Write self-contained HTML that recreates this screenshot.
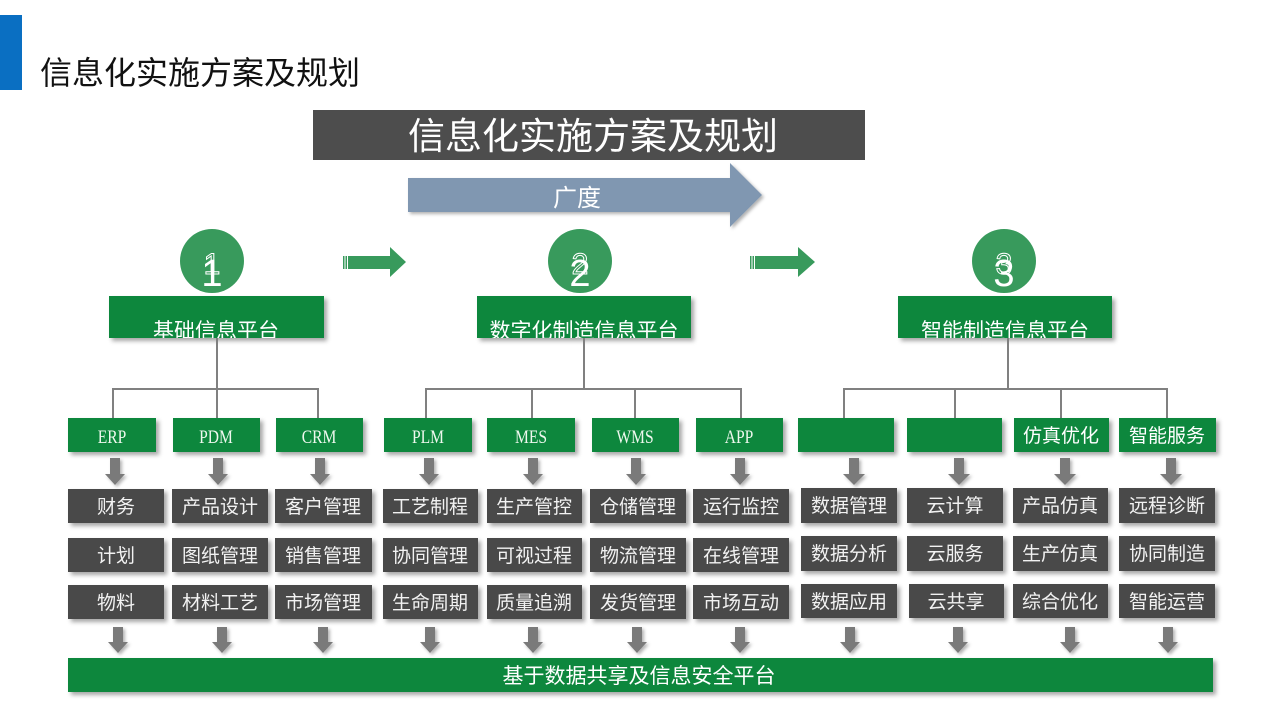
<!DOCTYPE html>
<html>
<head>
<meta charset="utf-8">
<style>
html,body{margin:0;padding:0;background:#fff;}
svg{display:block;}
text{font-family:"Liberation Sans","Noto Sans CJK SC",sans-serif;}
.serif{font-family:"Liberation Serif","Noto Serif CJK SC",serif;}
</style>
</head>
<body>
<svg width="1280" height="720" viewBox="0 0 1280 720" xmlns="http://www.w3.org/2000/svg">
<defs>
<filter id="sh" x="-10%" y="-20%" width="125%" height="160%">
<feDropShadow dx="3" dy="3" stdDeviation="2" flood-color="#000" flood-opacity="0.35"/>
</filter>
<filter id="sh2" x="-40%" y="-20%" width="180%" height="160%">
<feDropShadow dx="2" dy="2" stdDeviation="1.5" flood-color="#000" flood-opacity="0.3"/>
</filter>
<clipPath id="c1"><rect x="109" y="296" width="215" height="42"/></clipPath>
<clipPath id="c2"><rect x="477" y="296" width="214" height="42"/></clipPath>
<clipPath id="c3"><rect x="898" y="296" width="214" height="42"/></clipPath>
</defs>

<!-- header -->
<rect x="0" y="15" width="22" height="75" fill="#0a6fc2"/>
<text x="40" y="84" font-size="32" fill="#111">信息化实施方案及规划</text>

<!-- banner -->
<rect x="313" y="110" width="552" height="50" fill="#4d4d4d"/>
<text x="593" y="149" font-size="37" fill="#fff" text-anchor="middle">信息化实施方案及规划</text>

<!-- 广度 arrow -->
<polygon points="408,178 730,178 730,163 762,195 730,227 730,212 408,212" fill="#8097b1" filter="url(#sh2)"/>
<text x="577" y="206" font-size="24" fill="#fff" text-anchor="middle">广度</text>

<!-- circles -->
<g>
<circle cx="212" cy="261" r="32" fill="#389a5c"/>
<text x="212" y="274" font-size="30" fill="none" stroke="#fff" stroke-width="1" text-anchor="middle">1</text>
<text x="212" y="286" font-size="38" fill="#fff" text-anchor="middle">1</text>
<circle cx="580" cy="261" r="32" fill="#389a5c"/>
<text x="580" y="274" font-size="30" fill="none" stroke="#fff" stroke-width="1" text-anchor="middle">2</text>
<text x="580" y="286" font-size="38" fill="#fff" text-anchor="middle">2</text>
<circle cx="1004" cy="261" r="32" fill="#389a5c"/>
<text x="1004" y="274" font-size="30" fill="none" stroke="#fff" stroke-width="1" text-anchor="middle">3</text>
<text x="1004" y="286" font-size="38" fill="#fff" text-anchor="middle">3</text>
</g>

<!-- green small arrows -->
<g fill="#389a5c">
<rect x="343" y="256" width="1.5" height="13"/>
<rect x="345.5" y="256" width="1.5" height="13"/>
<polygon points="348,256 390,256 390,247 406,262 390,277 390,269 348,269"/>
<rect x="750" y="256" width="1.5" height="13"/>
<rect x="752.5" y="256" width="1.5" height="13"/>
<polygon points="755,256 798,256 798,247 815,262 798,277 798,269 755,269"/>
</g>

<!-- platform boxes -->
<rect x="109" y="296" width="215" height="42" fill="#08873d" filter="url(#sh)"/>
<text x="216" y="338" font-size="21" fill="#fff" text-anchor="middle" clip-path="url(#c1)">基础信息平台</text>
<rect x="477" y="296" width="214" height="42" fill="#08873d" filter="url(#sh)"/>
<text x="584" y="338" font-size="21" fill="#fff" text-anchor="middle" clip-path="url(#c2)">数字化制造信息平台</text>
<rect x="898" y="296" width="214" height="42" fill="#08873d" filter="url(#sh)"/>
<text x="1005" y="338" font-size="21" fill="#fff" text-anchor="middle" clip-path="url(#c3)">智能制造信息平台</text>

<!-- connectors -->
<g stroke="#808080" stroke-width="2" fill="none">
<line x1="217" y1="338" x2="217" y2="418"/>
<polyline points="113,418 113,389 318,389 318,418"/>
<line x1="584" y1="338" x2="584" y2="389"/>
<polyline points="426,418 426,389 741,389 741,418"/>
<line x1="532" y1="389" x2="532" y2="418"/>
<line x1="635" y1="389" x2="635" y2="418"/>
<line x1="1008" y1="338" x2="1008" y2="389"/>
<polyline points="844,418 844,389 1167,389 1167,418"/>
<line x1="955" y1="389" x2="955" y2="418"/>
<line x1="1061" y1="389" x2="1061" y2="418"/>
</g>

<!-- green category boxes -->
<g fill="#08873d" filter="url(#sh)">
<rect x="68" y="418" width="88" height="34"/>
<rect x="173" y="418" width="87" height="34"/>
<rect x="276" y="418" width="87" height="34"/>
<rect x="384" y="418" width="88" height="34"/>
<rect x="487" y="418" width="88" height="34"/>
<rect x="592" y="418" width="87" height="34"/>
<rect x="696" y="418" width="87" height="34"/>
<rect x="798" y="418" width="96" height="34"/>
<rect x="907" y="418" width="95" height="34"/>
<rect x="1014" y="418" width="95" height="34"/>
<rect x="1119" y="418" width="97" height="34"/>
</g>
<g fill="#eef8ee" font-size="19" text-anchor="middle">
<text class="serif" transform="translate(112,443) scale(0.82,1)">ERP</text>
<text class="serif" transform="translate(216,443) scale(0.82,1)">PDM</text>
<text class="serif" transform="translate(319,443) scale(0.82,1)">CRM</text>
<text class="serif" transform="translate(428,443) scale(0.82,1)">PLM</text>
<text class="serif" transform="translate(531,443) scale(0.82,1)">MES</text>
<text class="serif" transform="translate(635,443) scale(0.82,1)">WMS</text>
<text class="serif" transform="translate(739,443) scale(0.82,1)">APP</text>
</g>
<g fill="#fff" font-size="19" text-anchor="middle">
<text x="1061" y="442">仿真优化</text>
<text x="1167" y="442">智能服务</text>
</g>

<!-- down arrows row 1 -->
<g fill="#7a7a7a" filter="url(#sh2)">
<polygon points="110,458 120,458 120,474 125,474 115,485 105,474 110,474"/>
<polygon points="213,458 223,458 223,474 228,474 218,485 208,474 213,474"/>
<polygon points="315,458 325,458 325,474 330,474 320,485 310,474 315,474"/>
<polygon points="424,458 434,458 434,474 439,474 429,485 419,474 424,474"/>
<polygon points="528,458 538,458 538,474 543,474 533,485 523,474 528,474"/>
<polygon points="631,458 641,458 641,474 646,474 636,485 626,474 631,474"/>
<polygon points="735,458 745,458 745,474 750,474 740,485 730,474 735,474"/>
<polygon points="849,458 859,458 859,474 865,474 854,485 843,474 849,474"/>
<polygon points="954,458 964,458 964,474 970,474 959,485 948,474 954,474"/>
<polygon points="1060,458 1070,458 1070,474 1076,474 1065,485 1054,474 1060,474"/>
<polygon points="1166,458 1176,458 1176,474 1182,474 1171,485 1160,474 1166,474"/>
</g>

<!-- gray boxes -->
<g fill="#4a4a4a" filter="url(#sh)">
<rect x="68" y="489" width="96" height="34"/><rect x="68" y="538" width="96" height="34"/><rect x="68" y="585" width="96" height="34"/>
<rect x="172" y="489" width="96" height="34"/><rect x="172" y="538" width="96" height="34"/><rect x="172" y="585" width="96" height="34"/>
<rect x="275" y="489" width="97" height="34"/><rect x="275" y="538" width="97" height="34"/><rect x="275" y="585" width="97" height="34"/>
<rect x="383" y="489" width="95" height="34"/><rect x="383" y="538" width="95" height="34"/><rect x="383" y="585" width="95" height="34"/>
<rect x="487" y="489" width="95" height="34"/><rect x="487" y="538" width="95" height="34"/><rect x="487" y="585" width="95" height="34"/>
<rect x="590" y="489" width="96" height="34"/><rect x="590" y="538" width="96" height="34"/><rect x="590" y="585" width="96" height="34"/>
<rect x="693" y="489" width="96" height="34"/><rect x="693" y="538" width="96" height="34"/><rect x="693" y="585" width="96" height="34"/>
<rect x="801" y="488" width="96" height="35"/><rect x="801" y="536" width="96" height="35"/><rect x="801" y="584" width="96" height="34"/>
<rect x="907" y="488" width="96" height="35"/><rect x="907" y="536" width="96" height="35"/><rect x="909" y="584" width="95" height="34"/>
<rect x="1013" y="488" width="95" height="35"/><rect x="1013" y="536" width="95" height="35"/><rect x="1013" y="584" width="95" height="34"/>
<rect x="1119" y="488" width="96" height="35"/><rect x="1119" y="536" width="96" height="35"/><rect x="1119" y="584" width="96" height="34"/>
</g>
<g fill="#f2f2f2" font-size="19" text-anchor="middle">
<text x="116" y="513">财务</text><text x="116" y="562">计划</text><text x="116" y="609">物料</text>
<text x="220" y="513">产品设计</text><text x="220" y="562">图纸管理</text><text x="220" y="609">材料工艺</text>
<text x="323" y="513">客户管理</text><text x="323" y="562">销售管理</text><text x="323" y="609">市场管理</text>
<text x="430" y="513">工艺制程</text><text x="430" y="562">协同管理</text><text x="430" y="609">生命周期</text>
<text x="534" y="513">生产管控</text><text x="534" y="562">可视过程</text><text x="534" y="609">质量追溯</text>
<text x="638" y="513">仓储管理</text><text x="638" y="562">物流管理</text><text x="638" y="609">发货管理</text>
<text x="741" y="513">运行监控</text><text x="741" y="562">在线管理</text><text x="741" y="609">市场互动</text>
<text x="849" y="512">数据管理</text><text x="849" y="560">数据分析</text><text x="849" y="608">数据应用</text>
<text x="955" y="512">云计算</text><text x="955" y="560">云服务</text><text x="956" y="608">云共享</text>
<text x="1060" y="512">产品仿真</text><text x="1060" y="560">生产仿真</text><text x="1060" y="608">综合优化</text>
<text x="1167" y="512">远程诊断</text><text x="1167" y="560">协同制造</text><text x="1167" y="608">智能运营</text>
</g>

<!-- down arrows row 2 -->
<g fill="#7a7a7a" filter="url(#sh2)">
<polygon points="113,627 123,627 123,642 128,642 118,653 108,642 113,642"/>
<polygon points="217,627 227,627 227,642 232,642 222,653 212,642 217,642"/>
<polygon points="318,627 328,627 328,642 333,642 323,653 313,642 318,642"/>
<polygon points="425,627 435,627 435,642 440,642 430,653 420,642 425,642"/>
<polygon points="528,627 538,627 538,642 543,642 533,653 523,642 528,642"/>
<polygon points="632,627 642,627 642,642 647,642 637,653 627,642 632,642"/>
<polygon points="735,627 745,627 745,642 750,642 740,653 730,642 735,642"/>
<polygon points="845,627 855,627 855,642 860,642 850,653 840,642 845,642"/>
<polygon points="953,627 963,627 963,642 968,642 958,653 948,642 953,642"/>
<polygon points="1065,627 1075,627 1075,642 1080,642 1070,653 1060,642 1065,642"/>
<polygon points="1163,627 1173,627 1173,642 1178,642 1168,653 1158,642 1163,642"/>
</g>

<!-- bottom bar -->
<rect x="68" y="658" width="1145" height="34" fill="#08873d" filter="url(#sh)"/>
<text x="639" y="683" font-size="21" fill="#fff" text-anchor="middle">基于数据共享及信息安全平台</text>
</svg>
</body>
</html>
